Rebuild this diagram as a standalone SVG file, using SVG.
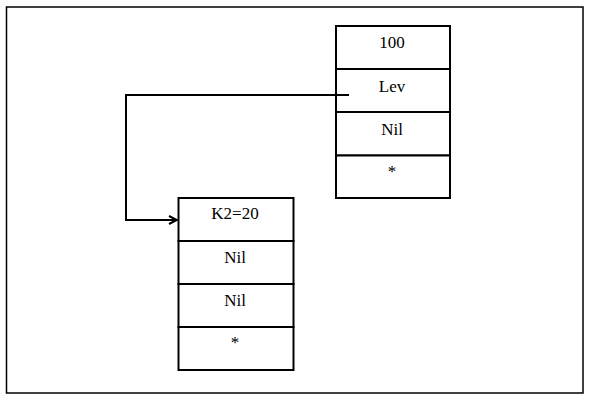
<svg xmlns="http://www.w3.org/2000/svg" width="593" height="403" viewBox="0 0 593 403">
<defs>
<style>
.cell{fill:#fff;stroke:#000;stroke-width:2}
.t{font-family:"Liberation Serif",serif;font-size:17px;fill:#000;text-anchor:middle}
.conn{fill:none;stroke:#000;stroke-width:2}
</style>
<marker id="arr" viewBox="0 0 10 10" refX="9" refY="5" markerWidth="10" markerHeight="10" markerUnits="userSpaceOnUse" orient="auto">
<path d="M1,1 L9,5 L1,9" fill="none" stroke="#000" stroke-width="2"/>
</marker>
</defs>
<rect x="0" y="0" width="593" height="403" fill="#fff"/>
<rect x="6.5" y="7" width="576.5" height="386" fill="none" stroke="#000" stroke-width="1.5"/>
<g id="node-top">
<rect class="cell" x="336" y="26" width="114" height="43"/>
<rect class="cell" x="336" y="69" width="114" height="43"/>
<rect class="cell" x="336" y="112" width="114" height="43.5"/>
<rect class="cell" x="336" y="155.5" width="114" height="42.5"/>
<text class="t" x="392" y="48">100</text>
<text class="t" x="392" y="92">Lev</text>
<text class="t" x="392" y="135">Nil</text>
<text class="t" x="392" y="177">*</text>
</g>
<g id="node-bottom">
<rect class="cell" x="178.5" y="198" width="115" height="43"/>
<rect class="cell" x="178.5" y="241" width="115" height="43"/>
<rect class="cell" x="178.5" y="284" width="115" height="43"/>
<rect class="cell" x="178.5" y="327" width="115" height="43"/>
<text class="t" x="235" y="219">K2=20</text>
<text class="t" x="235" y="263">Nil</text>
<text class="t" x="235" y="306">Nil</text>
<text class="t" x="235" y="348">*</text>
</g>
<g id="connectors">
<path class="conn" d="M349,95 H126 V220 H177" marker-end="url(#arr)"/>
</g>
</svg>
